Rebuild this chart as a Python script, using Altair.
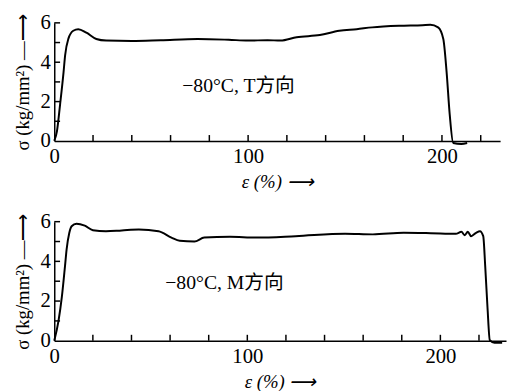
import altair as alt
import pandas as pd

# T direction curve
x_T = [0, 1.4, 3, 4.8, 5.6, 7.3, 9.8, 12.4, 16.6, 21.7, 26.8, 40, 55, 74, 90, 100, 110, 116.7, 125, 137, 147, 156, 164, 178, 190, 194, 198, 200.7, 202.4, 204, 205.8, 210, 213]
y_T = [0, 0.5, 1.85, 3.5, 4.35, 5.2, 5.6, 5.68, 5.5, 5.18, 5.1, 5.08, 5.12, 5.18, 5.14, 5.1, 5.12, 5.1, 5.27, 5.38, 5.6, 5.68, 5.77, 5.85, 5.88, 5.9, 5.77, 5.18, 3.5, 1.35, -0.1, -0.15, -0.1]

# M direction curve
x_M = [0, 2.2, 3.9, 5.6, 6.4, 7.8, 9, 11.5, 15.8, 20, 26.8, 35, 43.8, 54, 60.7, 65, 72.6, 77.7, 91, 104.8, 125, 150.6, 165, 181, 195, 208, 210.9, 212.6, 214.2, 215.9, 218.5, 220.5, 222.2, 223.2, 224.4, 225.6, 228, 232]
y_M = [0, 1.0, 2.18, 3.8, 4.6, 5.44, 5.77, 5.9, 5.8, 5.57, 5.52, 5.56, 5.6, 5.52, 5.2, 5.04, 5.0, 5.2, 5.24, 5.2, 5.27, 5.39, 5.36, 5.44, 5.42, 5.39, 5.49, 5.32, 5.49, 5.27, 5.44, 5.52, 5.27, 3.8, 1.69, 0.03, -0.1, -0.1]

x_labels = [0, 100, 200]
y_labels = [0, 2, 4, 6]
x_minor = [20, 40, 60, 80, 100, 120, 140, 160, 180, 200, 220]
y_minor = [1, 2, 3, 4, 5, 6]

labels = ["−80°C, T方向", "−80°C, M方向"]
label_x = [66, 57.5]
label_y = [2.8, 2.9]

FONT = "Liberation Serif, Noto Sans CJK SC"


def panel(xs, ys, xmax, w, h, lab, lx, ly):
    df = pd.DataFrame({"x": xs, "y": ys})
    xsc = alt.Scale(domain=[0, xmax], nice=False)
    ysc = alt.Scale(domain=[0, 6], nice=False)
    xax = alt.Axis(values=x_labels, ticks=False, grid=False, title="ε  (%) ⟶",
                   labelPadding=5, titlePadding=6, titleFontStyle="italic",
                   labelOverlap=False, labelFlush=False)
    yax = alt.Axis(values=y_labels, ticks=False, grid=False, title="σ  (kg/mm²) —⟶",
                   labelPadding=4, titlePadding=8, labelOverlap=False, labelFlush=False)
    line = alt.Chart(df).mark_line(color="black", strokeWidth=2, interpolate="monotone", clip=False).encode(
        x=alt.X("x:Q", scale=xsc, axis=xax),
        y=alt.Y("y:Q", scale=ysc, axis=yax),
    )
    xt = alt.Chart(pd.DataFrame({"t": x_minor, "a": [0.0] * len(x_minor), "b": [0.3] * len(x_minor)})).mark_rule(
        color="black", strokeWidth=1.5).encode(
        x=alt.X("t", type="quantitative", scale=xsc, axis=xax),
        y=alt.Y("a", type="quantitative", scale=ysc, axis=yax),
        y2=alt.Y2("b"))
    yt = alt.Chart(pd.DataFrame({"t": y_minor, "a": [0.0] * len(y_minor), "b": [3.0] * len(y_minor)})).mark_rule(
        color="black", strokeWidth=1.5).encode(
        y=alt.Y("t", type="quantitative", scale=ysc, axis=yax),
        x=alt.X("a", type="quantitative", scale=xsc, axis=xax),
        x2=alt.X2("b"))
    txt = alt.Chart(pd.DataFrame({"x": [lx], "y": [ly], "s": [lab]})).mark_text(
        align="left", baseline="middle", font=FONT, fontSize=20, color="black").encode(
        x=alt.X("x:Q", scale=xsc, axis=xax), y=alt.Y("y:Q", scale=ysc, axis=yax), text="s:N")
    return alt.layer(txt, xt, yt, line).properties(width=w, height=h)


top = panel(x_T, y_T, 230, 453, 120, labels[0], label_x[0], label_y[0])
bot = panel(x_M, y_M, 234, 459, 121, labels[1], label_x[1], label_y[1])

chart = alt.vconcat(top, bot, spacing=20).properties(
    padding={"left": 5, "top": 0, "right": 0, "bottom": 0}
).configure_axis(
    domainColor="black", domainWidth=1.5, labelColor="black", titleColor="black",
    labelFont=FONT, titleFont=FONT, labelFontSize=21, titleFontSize=19,
    titleFontWeight="normal",
).configure_view(strokeWidth=0)

chart.save("out.html", embed_options={"renderer": "svg", "actions": False})
